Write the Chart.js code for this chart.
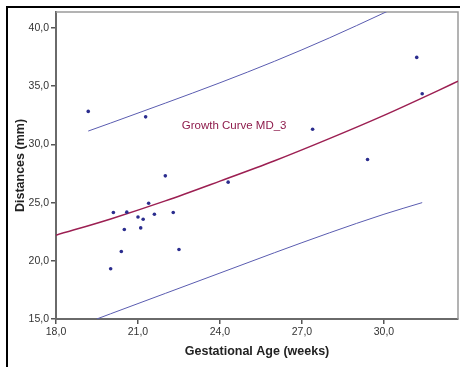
<!DOCTYPE html>
<html>
<head>
<meta charset="utf-8">
<script src="https://cdn.jsdelivr.net/npm/chart.js@4/dist/chart.umd.min.js"></script>
<style>
  html, body { margin: 0; padding: 0; background: #ffffff; }
  #wrap { position: relative; width: 460px; height: 367px; }
</style>
</head>
<body>
<div id="wrap"><canvas id="c" width="460" height="367"></canvas></div>
<script>
// ---- data ----
const gestAge   = [19.18, 21.28, 22.00, 20.10, 20.59, 21.39, 21.00, 21.19, 21.60, 22.29, 20.50, 21.10, 20.39, 22.50, 20.00, 24.30, 27.39, 29.40, 31.20, 31.40];
const distances = [32.84, 32.37, 27.30, 24.15, 24.18, 24.95, 23.77, 23.57, 24.00, 24.15, 22.69, 22.83, 20.80, 20.97, 19.32, 26.76, 31.31, 28.71, 37.48, 34.35];

const fitAge   = [18, 20, 22, 24, 26, 28, 30, 32, 32.71];
const fitDist  = [22.2, 23.6, 25.15, 26.85, 28.6, 30.5, 32.5, 34.65, 35.44];

const upperAge  = [19.18, 20, 22, 24, 26, 28, 30, 30.5];
const upperDist = [31.15, 31.84, 33.55, 35.3, 37.15, 39.15, 41.3, 41.85];

const lowerAge  = [19.49, 20, 22, 24, 26, 28, 30, 31.4];
const lowerDist = [15.0, 15.45, 17.2, 18.95, 20.7, 22.4, 24.0, 25.0];

const xTicks = [18, 21, 24, 27, 30];
const yTicks = [15, 20, 25, 30, 35, 40];
const xRange = [18, 32.71];
const yRange = [15, 41.38];

const curveLabel = 'Growth Curve MD_3';
const curveLabelAt = [22.6, 31.6];
const xTitle = 'Gestational Age (weeks)';
const yTitle = 'Distances (mm)';

// ---- build ----
const pts = (xs, ys) => xs.map((x, i) => ({ x: x, y: ys[i] }));
const fmt = v => Number(v).toFixed(1).replace('.', ',');
const FONT = "'Liberation Sans', Arial, sans-serif";

const framePlugin = {
  id: 'frame',
  beforeDraw(chart) {
    const ctx = chart.ctx;
    ctx.save();
    ctx.fillStyle = '#000000';
    ctx.fillRect(6, 6, 454, 2);
    ctx.fillRect(6, 6, 2, 361);
    ctx.restore();
  },
  beforeDatasetsDraw(chart) {
    const a = chart.chartArea, ctx = chart.ctx;
    ctx.save();
    ctx.strokeStyle = '#9a9a9a';
    ctx.lineWidth = 1.5;
    ctx.beginPath();
    ctx.moveTo(a.left, a.top);
    ctx.lineTo(a.right, a.top);
    ctx.lineTo(a.right, a.bottom);
    ctx.stroke();
    ctx.restore();
  },
  afterDatasetsDraw(chart) {
    const ctx = chart.ctx;
    const x = chart.scales.x.getPixelForValue(curveLabelAt[0]);
    const y = chart.scales.y.getPixelForValue(curveLabelAt[1]);
    ctx.save();
    ctx.fillStyle = '#8e1c4c';
    ctx.font = '11.5px ' + FONT;
    ctx.textAlign = 'left';
    ctx.textBaseline = 'middle';
    ctx.fillText(curveLabel, x, y);
    ctx.restore();
  }
};

new Chart(document.getElementById('c'), {
  type: 'scatter',
  data: {
    datasets: [
      {
        label: 'Distances',
        data: pts(gestAge, distances),
        backgroundColor: '#2b2d8e',
        borderColor: '#2b2d8e',
        borderWidth: 0,
        pointRadius: 1.8,
        pointHoverRadius: 1.8
      },
      {
        label: 'Fit',
        data: pts(fitAge, fitDist),
        showLine: true,
        borderColor: '#9c1f52',
        borderWidth: 1.5,
        pointRadius: 0,
        cubicInterpolationMode: 'monotone'
      },
      {
        label: 'Upper',
        data: pts(upperAge, upperDist),
        showLine: true,
        borderColor: '#5a5cb0',
        borderWidth: 1,
        pointRadius: 0,
        cubicInterpolationMode: 'monotone'
      },
      {
        label: 'Lower',
        data: pts(lowerAge, lowerDist),
        showLine: true,
        borderColor: '#5a5cb0',
        borderWidth: 1,
        pointRadius: 0,
        cubicInterpolationMode: 'monotone'
      }
    ]
  },
  options: {
    responsive: false,
    animation: false,
    events: [],
    layout: { padding: { left: 0, top: 12, right: 2, bottom: 0 } },
    plugins: { legend: { display: false }, tooltip: { enabled: false } },
    scales: {
      x: {
        type: 'linear',
        min: xRange[0], max: xRange[1],
        afterBuildTicks: s => { s.ticks = xTicks.map(v => ({ value: v })); },
        afterFit: s => { s.height = 48; },
        ticks: { callback: v => fmt(v), color: '#333333', font: { family: FONT, size: 10.5 }, padding: 2, maxRotation: 0 },
        grid: { drawOnChartArea: false, drawTicks: true, tickLength: 5, color: '#555555', lineWidth: 1.5 },
        border: { display: true, color: '#6a6a6a', width: 2 },
        title: { display: true, text: xTitle, color: '#222222', font: { family: FONT, size: 12.5, weight: 'bold' }, padding: { top: 0, bottom: 8 } }
      },
      y: {
        type: 'linear',
        min: yRange[0], max: yRange[1],
        afterBuildTicks: s => { s.ticks = yTicks.map(v => ({ value: v })); },
        afterFit: s => { s.width = 56; },
        ticks: { callback: v => fmt(v), color: '#333333', font: { family: FONT, size: 10.5 }, padding: 2 },
        grid: { drawOnChartArea: false, drawTicks: true, tickLength: 5, color: '#555555', lineWidth: 1.5 },
        border: { display: true, color: '#6a6a6a', width: 2 },
        title: { display: true, text: yTitle, color: '#222222', font: { family: FONT, size: 12.5, weight: 'bold' }, padding: { top: 13, bottom: 0 } }
      }
    }
  },
  plugins: [framePlugin]
});
</script>
</body>
</html>
